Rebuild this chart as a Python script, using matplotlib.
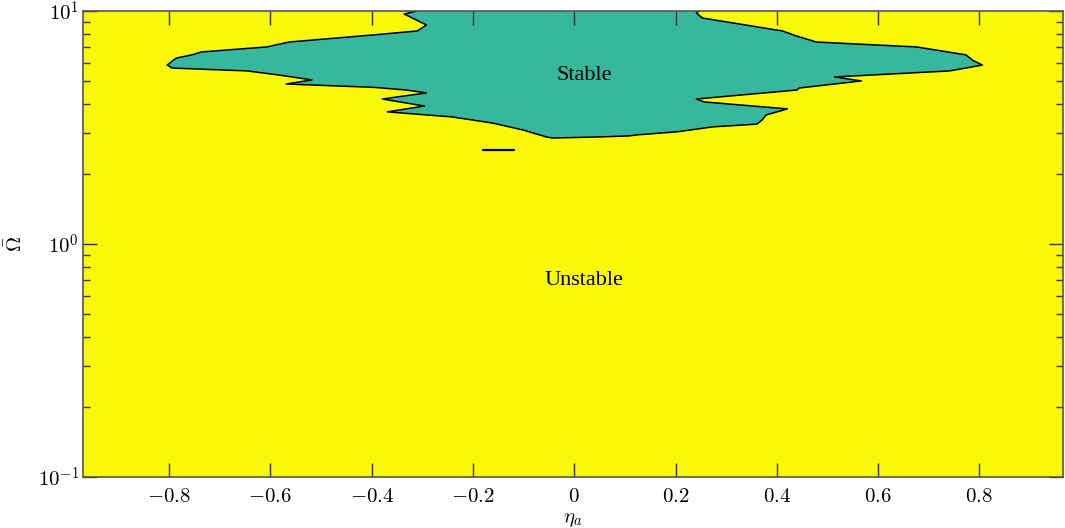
import matplotlib
matplotlib.use("Agg")
import matplotlib.pyplot as plt
import numpy as np

plt.rcParams['mathtext.fontset'] = 'cm'
plt.rcParams['font.family'] = ['Liberation Serif', 'DejaVu Serif']

# boundary of the stable region (eta_a, Omega), clockwise from the top
eta_b = [-0.310, -0.336, -0.292, -0.310, -0.395, -0.563, -0.607, -0.737, -0.755,
         -0.786, -0.804, -0.794, -0.646, -0.583, -0.518, -0.569, -0.395, -0.332,
         -0.292, -0.379, -0.296, -0.369, -0.241, -0.160, -0.100, -0.055, -0.043, 0.049,
         0.109, 0.124, 0.203, 0.273, 0.361, 0.372, 0.379, 0.421, 0.257, 0.241, 0.440,
         0.444, 0.567, 0.514, 0.741, 0.806, 0.786, 0.774, 0.676, 0.478, 0.439,
         0.411, 0.253, 0.241, 0.247]
omega_b = [10.0, 9.71, 8.71, 8.21, 7.90, 7.36, 7.01, 6.67, 6.48,
           6.28, 5.86, 5.69, 5.53, 5.31, 5.06, 4.86, 4.70, 4.58,
           4.45, 4.19, 3.91, 3.69, 3.51, 3.30, 3.08, 2.88, 2.85, 2.88,
           2.91, 2.94, 3.03, 3.18, 3.27, 3.42, 3.58, 3.80, 4.07, 4.19, 4.58,
           4.67, 5.01, 5.21, 5.53, 5.86, 6.16, 6.48, 7.01, 7.36, 7.81,
           8.21, 9.33, 9.80, 10.0]

# small isolated stable island
eta_island = [-0.180, -0.119]
omega_island = [2.54, 2.54]

xticks = [-0.8, -0.6, -0.4, -0.2, 0, 0.2, 0.4, 0.6, 0.8]
xticklabels = [r'$-0.8$', r'$-0.6$', r'$-0.4$', r'$-0.2$', r'$0$',
               r'$0.2$', r'$0.4$', r'$0.6$', r'$0.8$']
yticks = [0.1, 1, 10]
yticklabels = [r'$10^{-1}$', r'$10^{0}$', r'$10^{1}$']

fig = plt.figure(figsize=(10.65, 5.28), dpi=100)
ax = fig.add_axes([0.078, 0.0966, 0.92, 0.8826])
ax.set_yscale('log')
ax.set_xlim(-0.97, 0.965)
ax.set_ylim(0.1, 10)
ax.set_facecolor('#f8f808')

ax.fill(eta_b + [0.247, -0.310], omega_b + [12.0, 12.0], color='#37b89c', lw=0, zorder=1)
ax.plot(eta_b, omega_b, color='k', lw=1.1, zorder=2)
ax.plot(eta_island, omega_island, color='k', lw=1.6, solid_capstyle='round', zorder=2)

ax.text(0.02, 5.31, 'Stable', fontsize=16, ha='center', va='center')
ax.text(0.02, 0.70, 'Unstable', fontsize=16, ha='center', va='center')

ax.set_xticks(xticks)
ax.set_xticklabels(xticklabels, fontsize=15)
ax.set_yticks(yticks)
ax.set_yticklabels(yticklabels, fontsize=15)
ax.tick_params(which='both', direction='in', top=True, right=True, color='#333333')
ax.tick_params(which='major', length=10, width=1, pad=8)
ax.tick_params(axis='y', which='major', pad=3)
ax.tick_params(which='minor', length=5, width=1)
ax.tick_params(axis='x', which='minor', bottom=False, top=False)
for s in ax.spines.values():
    s.set_color('#555555')
    s.set_linewidth(1.2)

ax.set_xlabel(r'$\eta_a$', fontsize=15, labelpad=2)
ax.set_ylabel(r'$\bar{\Omega}$', fontsize=15, labelpad=8)

fig.savefig('out.png', dpi=100)
